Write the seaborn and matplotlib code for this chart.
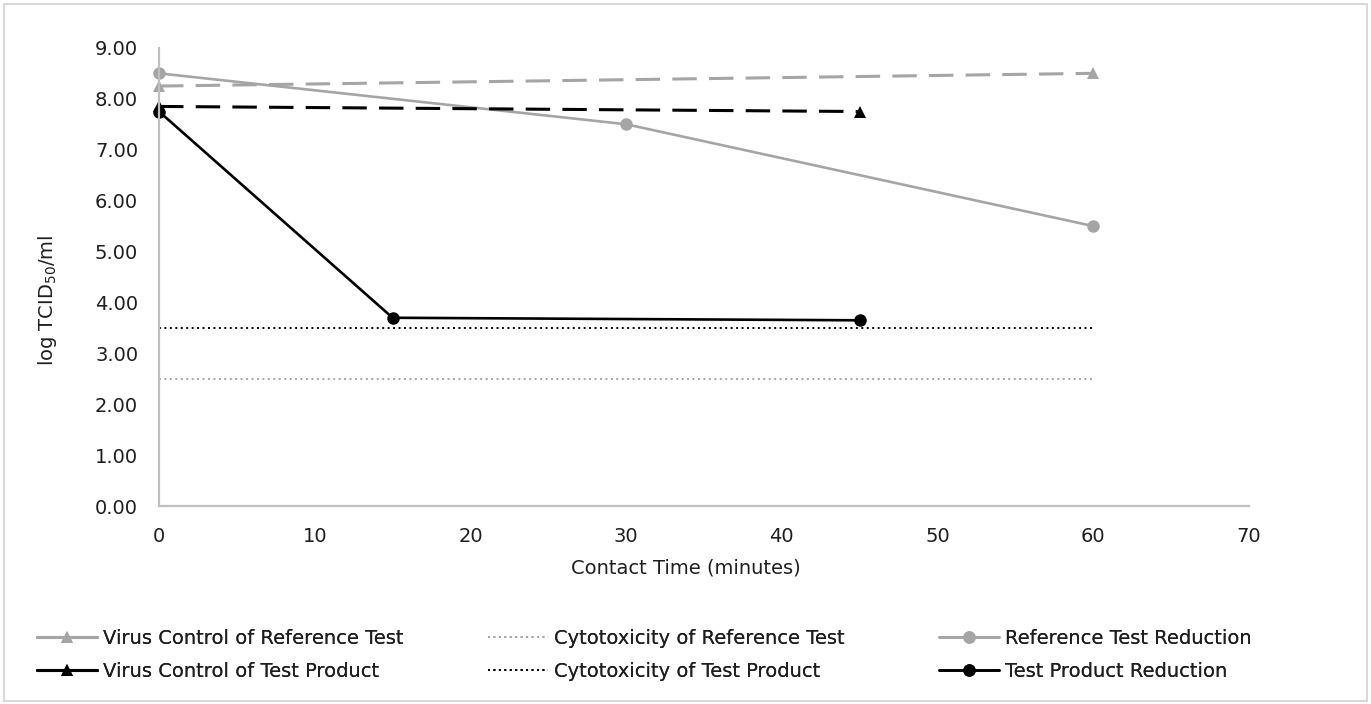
import matplotlib
matplotlib.use("Agg")
import matplotlib.pyplot as plt
import seaborn as sns
import pandas as pd
from matplotlib.patches import Rectangle
from matplotlib.lines import Line2D

sns.set_theme(style="white")
plt.rcParams['font.family'] = ['DejaVu Sans']

# Data
vc_ref_x = [0, 60]
vc_ref_y = [8.25, 8.50]
cyto_ref_x = [0, 60]
cyto_ref_y = [2.50, 2.50]
red_ref_x = [0, 30, 60]
red_ref_y = [8.50, 7.50, 5.50]
vc_test_x = [0, 45]
vc_test_y = [7.85, 7.75]
cyto_test_x = [0, 60]
cyto_test_y = [3.50, 3.50]
red_test_x = [0, 15, 45]
red_test_y = [7.75, 3.70, 3.65]

labels = ["Virus Control of Reference Test", "Cytotoxicity of Reference Test",
          "Reference Test Reduction", "Virus Control of Test Product",
          "Cytotoxicity of Test Product", "Test Product Reduction"]
x_ticks = [0, 10, 20, 30, 40, 50, 60, 70]
y_ticks = [0, 1, 2, 3, 4, 5, 6, 7, 8, 9]

GRAY = "#a5a5a5"
BLACK = "#000000"
TXT = "#1e1e1e"
FS = 14
DASH = (0, (8, 4))
DOT = (0, (1, 1.8))

fig = plt.figure(figsize=(13.71, 7.04), dpi=100)
ax = fig.add_axes([0.116, 0.281, 0.795, 0.651])

def draw(x, y, label, color, ls, marker, lw, ms):
    df = pd.DataFrame({"x": x, "y": y})
    sns.lineplot(data=df, x="x", y="y", ax=ax, color=color, linestyle=ls,
                 marker=marker, markersize=ms, markeredgewidth=0, lw=lw,
                 label=label, sort=False, legend=False)

draw(cyto_ref_x, cyto_ref_y, labels[1], GRAY, DOT, None, 1.4, 0)
draw(cyto_test_x, cyto_test_y, labels[4], BLACK, DOT, None, 1.4, 0)
draw(vc_ref_x, vc_ref_y, labels[0], GRAY, DASH, "^", 2.2, 9)
draw(red_ref_x, red_ref_y, labels[2], GRAY, "-", "o", 1.9, 9)
draw(vc_test_x, vc_test_y, labels[3], BLACK, DASH, "^", 2.2, 9)
draw(red_test_x, red_test_y, labels[5], BLACK, "-", "o", 1.9, 9)
for ln in ax.lines:
    ln.set_clip_on(False)

ax.set_xlim(0, 70)
ax.set_ylim(0, 9)
ax.set_xticks(x_ticks)
ax.set_yticks(y_ticks)
ax.set_yticklabels([f"{v:.2f}" for v in y_ticks])
ax.tick_params(axis='both', labelsize=FS, colors=TXT, length=0)
ax.tick_params(axis='y', pad=15)
ax.tick_params(axis='x', pad=15)
for side in ["top", "right"]:
    ax.spines[side].set_visible(False)
for side in ["left", "bottom"]:
    ax.spines[side].set_color("#bfbfbf")
    ax.spines[side].set_linewidth(1.6)
ax.set_xlabel("Contact Time (minutes)", fontsize=FS, color=TXT, labelpad=10)
ax.set_ylabel("log TCID$_{50}$/ml", fontsize=FS, color=TXT, labelpad=26)
ax.xaxis.set_label_coords(0.483, -0.115)
ax.yaxis.label.set_y(0.45)

def lh(color, ls, marker, lw, ms):
    return Line2D([], [], color=color, linestyle=ls, marker=marker, lw=lw,
                  markersize=ms, markeredgewidth=0)

groups = [
    ([lh(GRAY, "-", "^", 2.2, 9), lh(BLACK, "-", "^", 2.2, 9)], [labels[0], labels[3]], 37),
    ([lh(GRAY, DOT, None, 1.4, 0), lh(BLACK, DOT, None, 1.4, 0)], [labels[1], labels[4]], 488),
    ([lh(GRAY, "-", "o", 1.9, 9), lh(BLACK, "-", "o", 1.9, 9)], [labels[2], labels[5]], 939),
]
for hs, ls_, xpx in groups:
    leg = fig.legend(hs, ls_, loc="center left", bbox_to_anchor=(xpx / 1371, 1 - 655 / 704),
                     frameon=False, fontsize=FS, handlelength=3.1, handletextpad=0.3,
                     labelspacing=0.7, borderpad=0, borderaxespad=0, labelcolor=TXT)
    fig.add_artist(leg)

fig.patches.append(Rectangle((0.003, 0.004), 0.994, 0.99, transform=fig.transFigure,
                             fill=False, edgecolor="#d9d9d9", linewidth=1.5))

fig.savefig("out.png", dpi=100, facecolor="white")
